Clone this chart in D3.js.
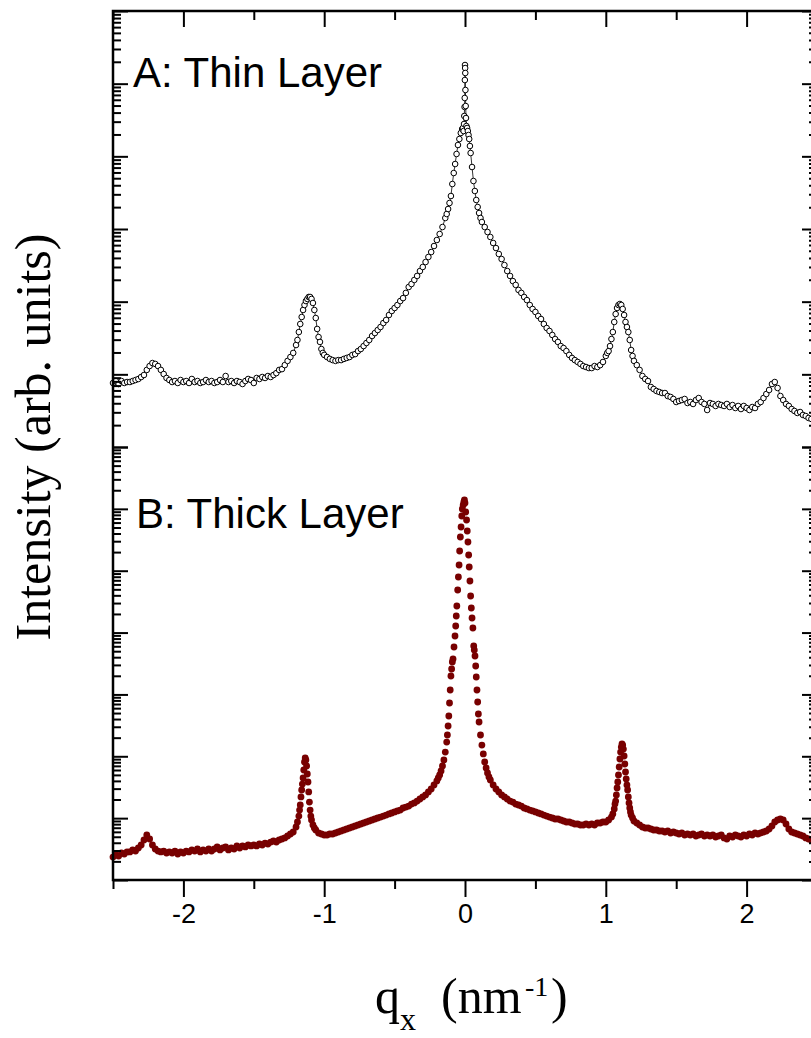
<!DOCTYPE html>
<html><head><meta charset="utf-8">
<script src="https://cdn.jsdelivr.net/npm/d3@7"></script>
<style>
html,body{margin:0;padding:0;background:#fff;}
svg{display:block;}
</style></head><body>
<svg id="chart" width="811" height="1038"></svg>
<script>
// Off-specular scattering intensity vs. in-plane momentum transfer q_x.
// Each series: [q_x (nm^-1), intensity (arb. units)]
const thinLayer = [
[-2.50,7.60],[-2.48,8.09],[-2.46,7.36],[-2.44,8.09],[-2.42,7.60],[-2.40,7.84],[-2.38,7.84],[-2.36,8.09],[-2.34,8.35],[-2.32,8.63],[-2.30,9.19],[-2.28,9.79],[-2.26,11.5],[-2.24,13.0],[-2.22,14.3],[-2.20,13.9],[-2.18,13.0],[-2.16,11.5],[-2.14,10.1],[-2.12,8.91],[-2.10,8.35],[-2.08,7.84],[-2.06,8.09],[-2.04,7.60],[-2.02,8.35],[-2.00,7.84],[-1.98,8.09],[-1.96,7.60],[-1.94,8.63],[-1.92,7.84],[-1.90,8.09],[-1.88,7.60],[-1.86,7.84],[-1.84,8.35],[-1.82,7.84],[-1.80,8.09],[-1.78,7.60],[-1.76,7.84],[-1.74,8.35],[-1.72,7.84],[-1.70,9.48],[-1.68,7.84],[-1.66,8.09],[-1.64,7.60],[-1.62,8.09],[-1.60,7.84],[-1.58,7.36],[-1.56,8.09],[-1.54,8.63],[-1.52,8.35],[-1.50,7.60],[-1.48,8.91],[-1.46,8.63],[-1.44,9.19],[-1.42,8.91],[-1.40,9.48],[-1.38,9.19],[-1.36,9.79],[-1.34,10.4],[-1.32,11.5],[-1.30,11.8],[-1.28,13.4],[-1.26,15.3],[-1.24,17.3],[-1.22,19.7],[-1.20,25.3],[-1.19,29.7],[-1.18,38.2],[-1.17,49.3],[-1.16,61.5],[-1.15,76.8],[-1.14,90.0],[-1.13,102],[-1.12,109],[-1.11,116],[-1.10,116],[-1.09,109],[-1.08,95.9],[-1.07,76.8],[-1.06,59.6],[-1.05,42.1],[-1.04,32.6],[-1.03,27.9],[-1.02,22.3],[-1.01,19.7],[-1.00,18.5],[-0.98,17.3],[-0.96,16.3],[-0.94,15.7],[-0.92,15.3],[-0.90,15.7],[-0.88,15.7],[-0.86,16.3],[-0.84,16.8],[-0.82,17.3],[-0.80,18.5],[-0.78,19.0],[-0.76,20.9],[-0.74,22.3],[-0.72,24.5],[-0.70,27.0],[-0.68,29.7],[-0.66,33.7],[-0.64,37.0],[-0.62,40.7],[-0.60,44.8],[-0.58,50.8],[-0.56,56.0],[-0.54,65.5],[-0.52,74.4],[-0.50,81.8],[-0.48,90.0],[-0.46,102],[-0.44,112],[-0.42,132],[-0.40,159],[-0.38,175],[-0.36,199],[-0.34,226],[-0.32,264],[-0.30,300],[-0.28,351],[-0.26,412],[-0.24,482],[-0.22,583],[-0.20,705],[-0.18,853],[-0.16,1065],[-0.14,1417],[-0.13,1608],[-0.12,1884],[-0.11,2279],[-0.10,2844],[-0.09,4159],[-0.08,5893],[-0.07,7839],[-0.06,10770],[-0.05,14320],[-0.04,17310],[-0.03,20940],[-0.02,23770],[-0.015,24540],[-0.01,22300],[-0.007,27860],[-0.005,35890],[-0.003,47790],[-0.002,63530],[-0.001,112200],[0,180700],[0.001,164100],[0.002,140300],[0.003,81850],[0.005,49240],[0.007,33670],[0.01,26130],[0.015,24540],[0.02,22300],[0.025,19640],[0.03,17310],[0.035,13870],[0.04,11110],[0.05,7129],[0.06,4575],[0.07,3333],[0.08,2506],[0.09,2008],[0.10,1660],[0.11,1417],[0.12,1248],[0.14,1065],[0.16,909],[0.18,776],[0.20,642],[0.22,547],[0.24,453],[0.26,386],[0.28,319],[0.30,264],[0.32,226],[0.34,192],[0.36,170],[0.38,145],[0.40,132],[0.42,116],[0.44,105],[0.46,90.0],[0.48,79.3],[0.50,72.1],[0.52,63.5],[0.54,57.7],[0.56,49.3],[0.58,43.4],[0.60,39.5],[0.62,34.8],[0.64,30.6],[0.66,27.9],[0.68,24.5],[0.70,23.0],[0.72,20.9],[0.74,18.5],[0.76,16.8],[0.78,15.7],[0.80,14.8],[0.82,13.9],[0.84,13.0],[0.86,12.6],[0.88,12.2],[0.90,12.2],[0.92,13.0],[0.94,12.6],[0.96,13.4],[0.98,14.8],[1.00,17.9],[1.01,19.7],[1.02,20.9],[1.03,24.5],[1.04,30.6],[1.05,38.2],[1.06,52.5],[1.07,67.6],[1.08,81.8],[1.09,90.0],[1.10,92.9],[1.11,90.0],[1.12,79.3],[1.13,65.5],[1.14,52.5],[1.15,44.8],[1.16,38.2],[1.17,29.7],[1.18,21.6],[1.19,17.9],[1.20,15.3],[1.22,13.4],[1.24,11.5],[1.26,9.48],[1.28,8.63],[1.30,8.09],[1.32,6.70],[1.34,6.28],[1.36,5.90],[1.38,5.71],[1.40,5.53],[1.42,5.53],[1.44,5.03],[1.46,4.88],[1.48,4.58],[1.50,4.16],[1.52,4.30],[1.54,4.43],[1.56,4.58],[1.58,4.03],[1.60,4.16],[1.62,3.91],[1.64,4.43],[1.66,4.72],[1.68,4.16],[1.70,3.91],[1.72,3.23],[1.74,4.03],[1.76,3.91],[1.78,3.67],[1.80,3.91],[1.82,3.78],[1.84,3.67],[1.86,3.91],[1.88,3.55],[1.90,3.78],[1.92,3.44],[1.94,3.67],[1.96,3.33],[1.98,3.67],[2.00,3.44],[2.02,3.23],[2.04,3.55],[2.06,3.44],[2.08,3.91],[2.10,4.16],[2.12,4.72],[2.14,5.36],[2.16,6.09],[2.18,7.36],[2.20,7.84],[2.22,6.49],[2.24,5.03],[2.26,4.43],[2.28,3.91],[2.30,3.67],[2.32,3.33],[2.34,3.13],[2.36,2.94],[2.38,3.03],[2.40,2.76],[2.42,2.67],[2.44,2.51],[2.46,2.43],[2.48,2.35],[2.50,2.28]
];

const thickLayer = [
[-2.50,2.35],[-2.48,2.54],[-2.46,2.44],[-2.44,2.73],[-2.42,2.63],[-2.40,2.84],[-2.38,2.84],[-2.36,3.06],[-2.34,2.94],[-2.32,3.29],[-2.30,3.68],[-2.28,4.43],[-2.26,5.34],[-2.24,4.60],[-2.22,3.68],[-2.20,3.17],[-2.18,2.94],[-2.16,2.84],[-2.14,2.94],[-2.12,2.73],[-2.10,2.84],[-2.08,2.73],[-2.06,2.94],[-2.04,2.63],[-2.02,2.84],[-2.00,2.73],[-1.98,2.94],[-1.96,2.84],[-1.94,3.06],[-1.92,2.94],[-1.90,3.17],[-1.88,2.84],[-1.86,3.06],[-1.84,2.94],[-1.82,3.17],[-1.80,2.94],[-1.78,3.17],[-1.76,3.42],[-1.74,3.06],[-1.72,3.29],[-1.70,3.42],[-1.68,3.06],[-1.66,3.29],[-1.64,3.17],[-1.62,3.55],[-1.60,3.29],[-1.58,3.55],[-1.56,3.42],[-1.54,3.68],[-1.52,3.55],[-1.50,3.68],[-1.48,3.55],[-1.46,3.82],[-1.44,3.68],[-1.42,3.96],[-1.40,3.82],[-1.38,4.11],[-1.36,4.27],[-1.34,4.11],[-1.32,4.43],[-1.30,4.60],[-1.28,4.78],[-1.26,5.14],[-1.24,5.54],[-1.22,5.97],[-1.20,7.19],[-1.19,8.66],[-1.18,10.8],[-1.175,13.5],[-1.17,16.3],[-1.165,22.0],[-1.16,28.5],[-1.155,35.6],[-1.15,44.6],[-1.145,60.0],[-1.14,80.8],[-1.135,93.8],[-1.13,87.1],[-1.125,69.6],[-1.12,51.7],[-1.115,38.4],[-1.11,26.5],[-1.105,18.2],[-1.10,13.5],[-1.095,10.8],[-1.09,9.33],[-1.08,7.75],[-1.07,6.93],[-1.06,6.43],[-1.04,5.75],[-1.02,5.54],[-1.00,5.34],[-0.98,5.34],[-0.96,5.54],[-0.94,5.54],[-0.92,5.75],[-0.90,5.97],[-0.88,6.20],[-0.86,6.43],[-0.84,6.68],[-0.82,6.93],[-0.80,7.19],[-0.78,7.46],[-0.76,7.75],[-0.74,8.04],[-0.72,8.35],[-0.70,8.66],[-0.68,8.99],[-0.66,9.33],[-0.64,9.69],[-0.62,10.05],[-0.60,10.4],[-0.58,10.8],[-0.56,11.2],[-0.54,11.7],[-0.52,12.1],[-0.50,12.6],[-0.48,13.1],[-0.46,13.5],[-0.44,14.6],[-0.42,15.1],[-0.40,15.7],[-0.38,16.9],[-0.36,17.6],[-0.34,18.9],[-0.32,20.4],[-0.30,22.0],[-0.28,23.7],[-0.26,26.5],[-0.24,29.6],[-0.22,34.4],[-0.20,39.9],[-0.19,44.6],[-0.18,49.8],[-0.17,57.8],[-0.16,69.6],[-0.15,87.1],[-0.14,117],[-0.13,170],[-0.125,221],[-0.12,309],[-0.115,448],[-0.11,727],[-0.105,1179],[-0.10,1985],[-0.095,2576],[-0.09,3343],[-0.085,3738],[-0.078,5843],[-0.071,8800],[-0.066,12770],[-0.062,18520],[-0.058,26880],[-0.052,48750],[-0.047,79100],[-0.042,123700],[-0.038,208200],[-0.033,350600],[-0.028,508800],[-0.023,766100],[-0.019,994300],[-0.013,1154000],[-0.008,1290000],[-0.004,1390000],[0,1243000],[0.005,889200],[0.011,659900],[0.016,438300],[0.021,291100],[0.026,179400],[0.030,114800],[0.035,68160],[0.040,38990],[0.045,24950],[0.050,17190],[0.056,11850],[0.062,6065],[0.066,5226],[0.071,4180],[0.076,2881],[0.080,1912],[0.085,1179],[0.09,754],[0.095,483],[0.10,358],[0.11,221],[0.12,152],[0.13,109],[0.14,80.8],[0.15,64.6],[0.16,53.7],[0.17,46.3],[0.18,41.4],[0.20,34.4],[0.22,29.6],[0.24,26.5],[0.26,23.7],[0.28,22.0],[0.30,20.4],[0.32,18.9],[0.34,18.2],[0.36,16.9],[0.38,16.3],[0.40,15.7],[0.42,14.6],[0.44,14.1],[0.46,13.5],[0.48,13.1],[0.50,12.6],[0.52,12.1],[0.54,11.7],[0.56,11.2],[0.58,10.8],[0.60,10.4],[0.62,10.05],[0.64,9.69],[0.66,9.69],[0.68,9.33],[0.70,8.99],[0.72,8.66],[0.74,8.66],[0.76,8.35],[0.78,8.04],[0.80,8.04],[0.82,7.75],[0.84,7.75],[0.86,8.04],[0.88,7.75],[0.90,8.04],[0.92,7.75],[0.94,8.35],[0.96,8.35],[0.98,8.66],[1.00,8.66],[1.02,9.33],[1.04,10.4],[1.05,11.7],[1.06,14.1],[1.065,16.9],[1.07,18.9],[1.075,23.7],[1.08,30.7],[1.085,38.4],[1.09,49.8],[1.095,67.1],[1.10,90.4],[1.105,117],[1.11,141],[1.115,158],[1.12,152],[1.125,131],[1.13,101],[1.135,75.0],[1.14,55.7],[1.145,42.9],[1.15,34.4],[1.155,28.5],[1.16,22.0],[1.165,17.6],[1.17,14.6],[1.175,12.6],[1.18,11.2],[1.19,10.05],[1.20,8.99],[1.22,8.35],[1.24,7.75],[1.26,7.19],[1.28,6.93],[1.30,6.93],[1.32,6.68],[1.34,6.43],[1.36,6.43],[1.38,6.20],[1.40,6.20],[1.42,5.97],[1.44,6.20],[1.46,5.75],[1.48,5.97],[1.50,5.75],[1.52,5.54],[1.54,5.75],[1.56,5.34],[1.58,5.54],[1.60,5.34],[1.62,5.54],[1.64,5.14],[1.66,5.34],[1.68,5.54],[1.70,5.14],[1.72,5.34],[1.74,5.14],[1.76,5.34],[1.78,4.96],[1.80,5.14],[1.82,5.34],[1.84,4.78],[1.86,4.60],[1.88,5.14],[1.90,4.96],[1.92,5.34],[1.94,5.14],[1.96,4.96],[1.98,5.34],[2.00,5.14],[2.02,5.54],[2.04,5.34],[2.06,5.75],[2.08,5.54],[2.10,5.75],[2.12,5.97],[2.14,6.20],[2.16,6.68],[2.18,7.46],[2.20,8.66],[2.22,9.33],[2.24,9.69],[2.26,9.33],[2.28,8.04],[2.30,6.68],[2.32,5.97],[2.34,5.75],[2.36,5.54],[2.38,5.34],[2.40,5.14],[2.42,4.78],[2.44,4.60],[2.46,4.43],[2.48,4.27],[2.50,4.11]
];

const xMajorTicks = [-2, -1, 0, 1, 2];
const xMinorTicks = [-2.5, -1.5, -0.5, 0.5, 1.5, 2.5];
const panelLabels = ["A: Thin Layer", "B: Thick Layer"];
const yAxisTitle = "Intensity (arb. units)";

const svg = d3.select("#chart");
const plotLeft = 113, plotRight = 817, plotTop = 11, plotMid = 447, plotBottom = 880;
const SANS = "'Liberation Sans', Arial, Helvetica, sans-serif";
const SERIF = "'Liberation Serif', 'Times New Roman', Times, serif";

const x = d3.scaleLinear().domain([-2.5, 2.5]).range([plotLeft, plotRight]);
const yThin = d3.scaleLog().domain([1, 1e6]).range([plotMid, plotTop]);
const yThick = d3.scaleLog().domain([1, 1e7]).range([plotBottom, plotMid]);

// ---- data: thin layer (open circles joined by a thin line)
const thinG = svg.append("g");
thinG.append("path")
  .datum(thinLayer)
  .attr("fill", "none")
  .attr("stroke", "#000")
  .attr("stroke-width", 0.8)
  .attr("d", d3.line().x(d => x(d[0])).y(d => yThin(d[1])));
thinG.selectAll("circle").data(thinLayer).join("circle")
  .attr("cx", d => x(d[0]))
  .attr("cy", d => yThin(d[1]))
  .attr("r", 2.8)
  .attr("fill", "#fff")
  .attr("stroke", "#000")
  .attr("stroke-width", 1);

// ---- data: thick layer (filled dark red dots)
svg.append("g").selectAll("circle").data(thickLayer).join("circle")
  .attr("cx", d => x(d[0]))
  .attr("cy", d => yThick(d[1]))
  .attr("r", 3.4)
  .attr("fill", "#780000");

// ---- log ticks split into decades and sub-decade marks
function splitTicks(scale) {
  const all = scale.ticks();
  const isDecade = v => Math.abs(Math.log10(v) - Math.round(Math.log10(v))) < 1e-9;
  return { major: all.filter(isDecade), minor: all.filter(v => !isDecade(v)) };
}

function styleAxis(g, width) {
  g.select(".domain").remove();
  g.selectAll(".tick line").attr("stroke", "#000").attr("stroke-width", width);
}

[yThin, yThick].forEach(scale => {
  const t = splitTicks(scale);
  svg.append("g").attr("transform", `translate(${plotLeft},0)`)
    .call(d3.axisRight(scale).tickValues(t.major).tickSize(15).tickFormat(""))
    .call(g => styleAxis(g, 2));
  svg.append("g").attr("transform", `translate(${plotLeft},0)`)
    .call(d3.axisRight(scale).tickValues(t.minor).tickSize(8).tickFormat(""))
    .call(g => styleAxis(g, 2));
  svg.append("g").attr("transform", `translate(${plotRight},0)`)
    .call(d3.axisLeft(scale).tickValues(t.major).tickSize(15).tickFormat(""))
    .call(g => styleAxis(g, 2));
  svg.append("g").attr("transform", `translate(${plotRight},0)`)
    .call(d3.axisLeft(scale).tickValues(t.minor).tickSize(8).tickFormat(""))
    .call(g => styleAxis(g, 2));
});

// ---- x axes: labelled at the bottom (outward ticks), bare ticks inside the top edge
svg.append("g").attr("transform", `translate(0,${plotBottom})`)
  .call(d3.axisBottom(x).tickValues(xMajorTicks).tickSize(17).tickPadding(7).tickFormat(d => String(d)))
  .call(g => styleAxis(g, 2))
  .call(g => g.selectAll(".tick text")
    .attr("font-family", SANS).attr("font-size", 27).attr("fill", "#000"));
svg.append("g").attr("transform", `translate(0,${plotBottom})`)
  .call(d3.axisBottom(x).tickValues(xMinorTicks).tickSize(9).tickFormat(""))
  .call(g => styleAxis(g, 2));
svg.append("g").attr("transform", `translate(0,${plotTop})`)
  .call(d3.axisBottom(x).tickValues(xMajorTicks).tickSize(16).tickFormat(""))
  .call(g => styleAxis(g, 2));
svg.append("g").attr("transform", `translate(0,${plotTop})`)
  .call(d3.axisBottom(x).tickValues(xMinorTicks).tickSize(9).tickFormat(""))
  .call(g => styleAxis(g, 2));

// ---- frame
svg.append("path")
  .attr("d", `M${plotLeft},${plotTop}H${plotRight}V${plotBottom}H${plotLeft}Z`)
  .attr("fill", "none")
  .attr("stroke", "#000")
  .attr("stroke-width", 2.5);

// ---- panel labels
svg.append("text").attr("x", 133).attr("y", 87)
  .attr("font-family", SANS).attr("font-size", 42).attr("fill", "#000")
  .text(panelLabels[0]);
svg.append("text").attr("x", 136).attr("y", 528)
  .attr("font-family", SANS).attr("font-size", 42).attr("fill", "#000")
  .text(panelLabels[1]);

// ---- axis titles
svg.append("text")
  .attr("transform", "translate(50,437) rotate(-90)")
  .attr("text-anchor", "middle")
  .attr("font-family", SERIF).attr("font-size", 50).attr("fill", "#000")
  .text(yAxisTitle);

const xt = svg.append("text")
  .attr("x", 375).attr("y", 1013)
  .attr("font-family", SERIF).attr("font-size", 50).attr("fill", "#000");
xt.append("tspan").text("q");
xt.append("tspan").attr("font-size", 32).attr("dy", 17).text("x");
xt.append("tspan").attr("x", 441).attr("dy", -17).text("(nm");
xt.append("tspan").attr("x", 525).attr("font-size", 28).attr("dy", -17).text("-1");
xt.append("tspan").attr("x", 551).attr("dy", 17).text(")");
</script>
</body></html>
